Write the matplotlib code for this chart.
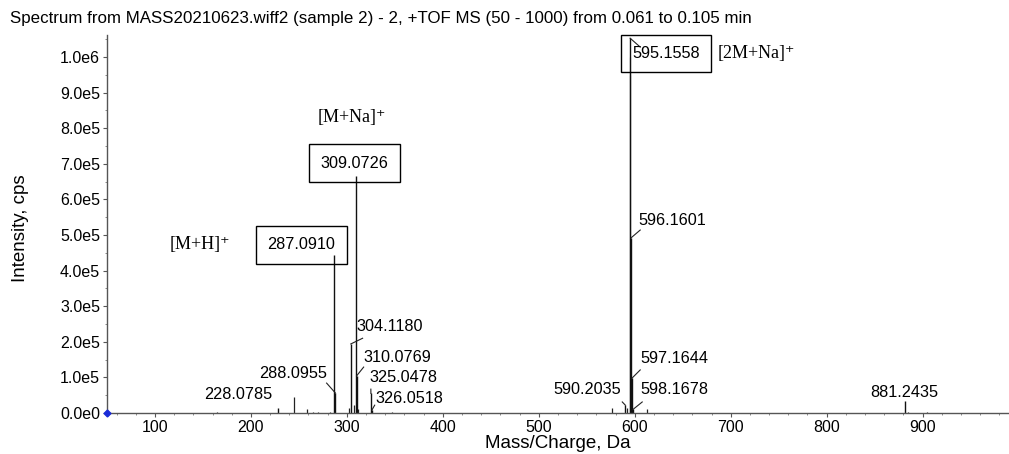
import matplotlib
matplotlib.use("Agg")
import matplotlib.pyplot as plt
from matplotlib.ticker import FuncFormatter, MultipleLocator

plt.rcParams["font.family"] = ["Liberation Sans", "DejaVu Sans"]

# labelled centroid peaks (m/z, intensity in cps)
label_mz = [228.0785, 287.0910, 288.0955, 304.1180, 309.0726, 310.0769,
            325.0478, 326.0518, 590.2035, 595.1558, 596.1601, 597.1644,
            598.1678, 881.2435]
label_int = [1.5e4, 4.44e5, 5.6e4, 1.94e5, 6.65e5, 1.04e5,
             5.5e4, 8e3, 2.2e4, 1.053e6, 4.92e5, 9.8e4,
             1.0e4, 3.3e4]

# smaller unlabelled peaks
minor_mz = [165.0, 245.0, 258.5, 265.0, 270.2, 282.0, 302.6, 307.3, 311.1,
            347.0, 576.8, 592.2, 612.6, 885.0, 905.0]
minor_int = [2e3, 4.5e4, 1.2e4, 4e3, 3e3, 3e3, 1.5e4, 2.2e4, 1.2e4,
             3e3, 1.3e4, 1.5e4, 1.1e4, 4e3, 3e3]

# text placement: (x, y, ha, boxed, leader start or None)
layout = {
    228.0785: (222.5, 5.1e4, "right", False, None),
    287.0910: (252.7, 4.72e5, "center", True, None),
    288.0955: (278.9, 1.12e5, "right", False, (278.9, 0.84e5)),
    304.1180: (310.5, 2.44e5, "left", False, (316.4, 2.1e5)),
    309.0726: (308.1, 7.02e5, "center", True, None),
    310.0769: (317.0, 1.57e5, "left", False, (317.5, 1.29e5)),
    325.0478: (323.8, 1.01e5, "left", False, (325.0, 0.67e5)),
    326.0518: (330.0, 4.2e4, "left", False, (329.0, 2.2e4)),
    590.2035: (586.0, 6.5e4, "right", False, (587.0, 3.1e4)),
    595.1558: (632.4, 1.01e6, "center", True, (605.7, 1.028e6)),
    596.1601: (603.7, 5.42e5, "left", False, (605.7, 5.14e5)),
    597.1644: (605.7, 1.545e5, "left", False, (605.7, 1.21e5)),
    598.1678: (605.7, 6.5e4, "left", False, (607.8, 3.1e4)),
    881.2435: (880.4, 5.9e4, "center", False, None),
}

ions = [("[M+H]⁺", 147.3, 4.72e5, "center"),
        ("[M+Na]⁺", 305.0, 8.31e5, "center"),
        ("[2M+Na]⁺", 686.2, 1.011e6, "left")]

fig = plt.figure(figsize=(10.09, 4.54), dpi=100)
ax = fig.add_axes([0.106, 0.0903, 0.894, 0.8327])

ax.vlines(minor_mz, 0, minor_int, color="#222222", lw=0.9)
ax.vlines(label_mz, 0, label_int, color="#111111", lw=1.0)
ax.vlines([595.10, 595.22], 0, [1.0e6, 9.5e5], color="#111111", lw=0.8)

for mz, inten in zip(label_mz, label_int):
    tx, ty, ha, boxed, lead = layout[mz]
    bbox = dict(boxstyle="square,pad=0.7", fc="none", ec="black", lw=1.0) if boxed else None
    ax.text(tx, ty, f"{mz:.4f}", ha=ha, va="center", fontsize=11.7, bbox=bbox,
            clip_on=False, zorder=4)
    if lead is not None:
        ax.plot([lead[0], mz], [lead[1], inten], color="#222222", lw=0.8, zorder=3)

for txt, x, y, ha in ions:
    ax.text(x, y, txt, ha=ha, va="center", fontsize=13,
            family=["Liberation Serif", "DejaVu Serif"], clip_on=False)

ax.plot([50], [0], marker="D", ms=3.5, color="#1a2bd8", clip_on=False, zorder=5)

ax.set_xlim(50, 990)
ax.set_ylim(0, 1.062e6)
ax.xaxis.set_major_locator(MultipleLocator(100))
ax.xaxis.set_minor_locator(MultipleLocator(20))
ax.yaxis.set_major_locator(MultipleLocator(1e5))
ax.yaxis.set_minor_locator(MultipleLocator(5e4))


def sci(v, pos):
    if v == 0:
        return "0.0e0"
    e = len(str(int(round(v)))) - 1
    return f"{v / 10 ** e:.1f}e{e}"


ax.yaxis.set_major_formatter(FuncFormatter(sci))
for s in ("top", "right"):
    ax.spines[s].set_visible(False)
for s in ("left", "bottom"):
    ax.spines[s].set_color("#555555")
    ax.spines[s].set_linewidth(1.0)
ax.tick_params(axis="both", which="major", labelsize=11.5, length=3, color="#555555", pad=2)
ax.tick_params(axis="both", which="minor", length=1.5, color="#777777")

ax.set_xlabel("Mass/Charge, Da", fontsize=13.5, labelpad=0)
ax.set_ylabel("Intensity, cps", fontsize=13.5)
ax.yaxis.set_label_coords(-0.086, 0.49)
fig.text(0.01, 1 - 18 / 454, "Spectrum from MASS20210623.wiff2 (sample 2) - 2, +TOF MS (50 - 1000) from 0.061 to 0.105 min",
         fontsize=12.2, va="center", ha="left")

fig.savefig("out.png", dpi=100)
